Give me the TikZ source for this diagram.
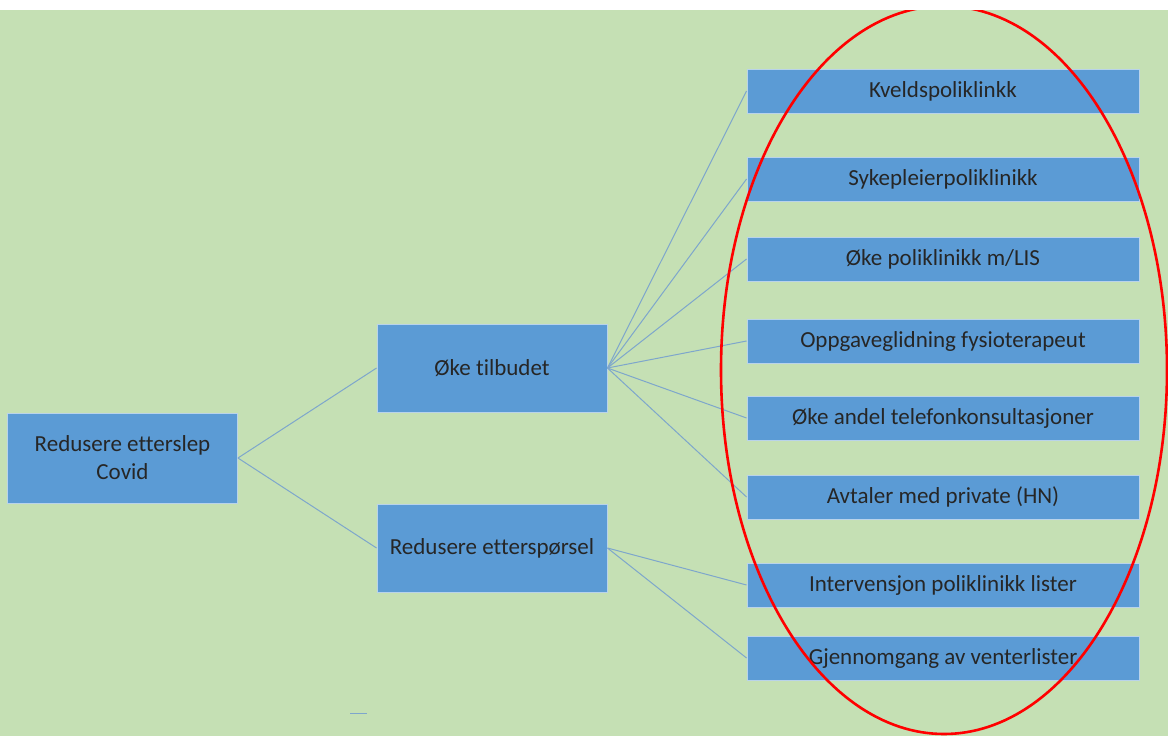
\documentclass[tikz,border=0pt]{standalone}
\usepackage{fontspec}
\setmainfont{Carlito}[Ligatures=NoCommon]
\usepackage{tikz}
\usetikzlibrary{positioning,calc}
\definecolor{bggreen}{HTML}{C5E0B4}
\definecolor{boxblue}{HTML}{5B9BD5}
\definecolor{linkblue}{HTML}{7EA6CC}
\definecolor{rimblue}{HTML}{B9D3EA}

\begin{document}
\begin{tikzpicture}[x=1pt, y=-1pt, font=\fontsize{23}{28}\selectfont,
          box/.style={draw=rimblue, line width=0.9pt, fill=boxblue,
                      text=black!85, align=center, inner sep=2pt},
          wide/.style={box, minimum width=230pt, minimum height=88pt},
          item/.style={box, minimum width=392pt, minimum height=44pt},
          link/.style={draw=linkblue, line width=1pt}]
        \useasboundingbox (0,0) rectangle (1168,736);
        \fill[bggreen] (0,10) rectangle (1168,736);

        \node[wide, minimum height=90pt] (root) at (122.5,458) {Redusere etterslep\\Covid};
        \node[wide] (tilbud) at (492,368) {Øke tilbudet};
        \node[wide] (sporsel) at (492,548) {Redusere etterspørsel};

        \node[item] (kveld) at (943,91)  {Kveldspoliklinkk};
        \node[item] (syke)  at (943,179) {Sykepleierpoliklinikk};
        \node[item] (lis)   at (943,259) {Øke poliklinikk m/LIS};
        \node[item] (fysio) at (943,341) {Oppgaveglidning fysioterapeut};
        \node[item] (tlf)   at (943,418) {Øke andel telefonkonsultasjoner};
        \node[item] (priv)  at (943,497) {Avtaler med private (HN)};
        \node[item] (inter) at (943,585) {Intervensjon poliklinikk lister};
        \node[item] (vent)  at (943,658) {Gjennomgang av venterlister};

        \draw[link] (root.east) -- (tilbud.west);
        \draw[link] (root.east) -- (sporsel.west);
        \foreach \t in {kveld,syke,lis,fysio,tlf,priv}
          \draw[link] (tilbud.east) -- (\t.west);
        \draw[link] (sporsel.east) -- (inter.west);
        \draw[link] (sporsel.east) -- (vent.west);

        % stray mark under the middle column
        \coordinate (dashl) at (350,713);
        \coordinate (dashr) at (367,713);
        \draw[link] (dashl) -- (dashr);

        % red ring round the measures
        \begin{scope}
          \clip (0,10) rectangle (1168,736);
          \draw[red, line width=2.6pt] (944,370) ellipse [x radius=223, y radius=364];
        \end{scope}
      \end{tikzpicture}
\end{document}
